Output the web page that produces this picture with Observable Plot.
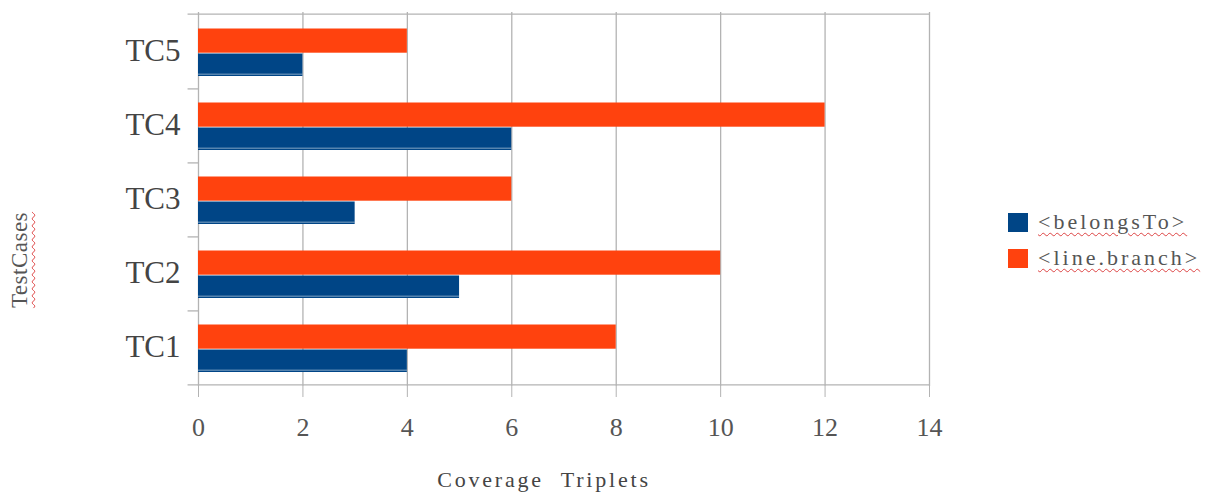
<!DOCTYPE html>
<html><head><meta charset="utf-8">
<script src="https://cdn.jsdelivr.net/npm/d3@7"></script>
<script src="https://cdn.jsdelivr.net/npm/@observablehq/plot@0.6"></script>
<style>
html,body{margin:0;padding:0;background:#fff;}
#wrap{position:relative;width:1205px;height:494px;overflow:hidden;}
svg text{font-family:"Liberation Serif","Times New Roman",serif !important;}
.ylab{position:absolute;left:-40px;top:246px;width:120px;height:28px;line-height:28px;text-align:center;transform:rotate(-90deg);font-family:"Liberation Serif","Times New Roman",serif;font-size:23px;color:#555;letter-spacing:0.5px;text-decoration:underline wavy #d44;text-decoration-thickness:1px;text-underline-offset:4px;}
.legend{position:absolute;left:1008px;top:204px;font-family:"Liberation Serif","Times New Roman",serif;font-size:22px;color:#555;letter-spacing:3px;}
.row{display:flex;align-items:center;height:36px;}
.sw{width:20px;height:19px;margin-right:10px;}
.lt{text-decoration:underline wavy #d44;text-decoration-thickness:1px;text-underline-offset:3px;}
</style>
</head><body>
<div id="wrap"></div>
<script>
const categories = ["TC1", "TC2", "TC3", "TC4", "TC5"];
const belongsTo = [4, 5, 3, 6, 2];
const lineBranch = [8, 10, 6, 12, 4];
const xTicks = [0, 2, 4, 6, 8, 10, 12, 14];
const seriesNames = ["<belongsTo>", "<line.branch>"];
const seriesColors = ["#004586", "#ff420e"];

const W = 1205, H = 494;
const mL = 198, mR = 1205 - 929, mT = 12, mB = 494 - 386;
const bw = (H - mT - mB) / categories.length;
const yDomain = categories.slice().reverse();

const blue = categories.map((c, i) => ({tc: c, v: belongsTo[i]}));
const orange = categories.map((c, i) => ({tc: c, v: lineBranch[i]}));
const gridCol = "#b3b3b3";
const tickLen = 0.2;

const chart = Plot.plot({
  width: W, height: H,
  marginLeft: mL, marginRight: mR, marginTop: mT, marginBottom: mB,
  style: {fontFamily: "'Liberation Serif', 'Times New Roman', serif", background: "#fff"},
  x: {domain: [0, 14]},
  y: {domain: yDomain, padding: 0},
  marks: [
    Plot.ruleX(xTicks, {stroke: gridCol, strokeWidth: 1.3}),
    Plot.ruleY([yDomain[0]], {dy: -bw/2, x1: -tickLen, x2: 14, stroke: gridCol, strokeWidth: 1.3}),
    Plot.ruleY([yDomain[yDomain.length-1]], {dy: bw/2, x1: -tickLen, x2: 14, stroke: gridCol, strokeWidth: 1.3}),
    Plot.ruleY(yDomain.slice(0, -1), {dy: bw/2, x1: -tickLen, x2: 0, stroke: gridCol, strokeWidth: 1.3}),
    Plot.barX(orange, {y: "tc", x: "v", fill: seriesColors[1], insetTop: 14.5, insetBottom: bw - 39.5}),
    Plot.barX(blue, {y: "tc", x: "v", fill: seriesColors[0], insetTop: 39.5, insetBottom: 12}),
    Plot.barX(blue, {y: "tc", x: "v", fill: "#d8e4ee", insetTop: bw - 15, insetBottom: 13.6}),
    Plot.axisX(xTicks, {tickSize: 11, tickPadding: 20, stroke: gridCol, fontSize: 26, fill: "#555", label: null}),
    Plot.axisY({tickSize: 0, tickPadding: 18, fontSize: 31, fill: "#444", label: null}),
    Plot.text(["Coverage Triplets"], {frameAnchor: "bottom", dy: 100, dx: -20, fontSize: 22, fill: "#444"})
  ]
});
chart.querySelectorAll("text").forEach(t => {
  if (t.textContent === "Coverage Triplets") { t.setAttribute("letter-spacing", "2.8"); t.setAttribute("word-spacing", "9"); }
});
const wrap = document.getElementById("wrap");
wrap.appendChild(chart);

const yl = document.createElement("div");
yl.className = "ylab"; yl.textContent = "TestCases";
wrap.appendChild(yl);

const lg = document.createElement("div");
lg.className = "legend";
seriesNames.forEach((n, i) => {
  const r = document.createElement("div"); r.className = "row";
  const s = document.createElement("div"); s.className = "sw"; s.style.background = seriesColors[i];
  const t = document.createElement("span"); t.className = "lt"; t.textContent = n;
  r.appendChild(s); r.appendChild(t); lg.appendChild(r);
});
wrap.appendChild(lg);
</script>
</body></html>
